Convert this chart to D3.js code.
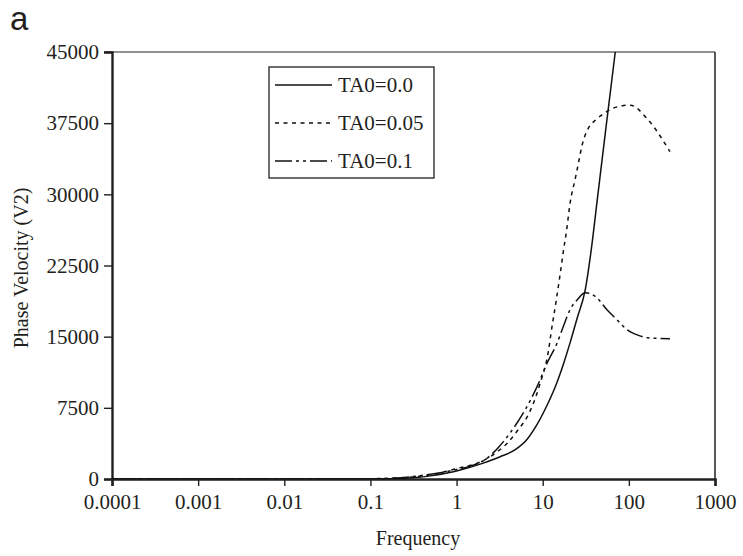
<!DOCTYPE html>
<html>
<head>
<meta charset="utf-8">
<script src="https://cdn.jsdelivr.net/npm/d3@7"></script>
<style>
  html, body { margin: 0; padding: 0; background: #fff; }
  svg { display: block; }
  text { font-family: "Liberation Serif", "Times New Roman", serif; fill: #231f20; }
</style>
</head>
<body>
<svg id="chart" width="743" height="556"></svg>
<script>
// Phase velocity (V2) versus frequency for three TA0 values
const seriesNames = ["TA0=0.0", "TA0=0.05", "TA0=0.1"];

const freqA = [0.0001, 0.001, 0.01, 0.1, 0.2, 0.3, 0.5, 0.8, 1, 2, 3.2, 4.8, 6.6, 8.6, 11.3, 14, 17.3, 20.8, 25.2, 31.2, 36.6, 43, 54.6, 73.3];
const valA  = [0, 0, 0, 20, 60, 120, 330, 650, 850, 1650, 2340, 3100, 4200, 5750, 7830, 9730, 12050, 14370, 17000, 19950, 24170, 29440, 37240, 46700];

const freqB = [0.0001, 0.001, 0.01, 0.1, 0.2, 0.5, 1, 2, 3, 4, 5, 7, 9.35, 11.7, 12.5, 14.4, 16, 17.5, 18.8, 20.8, 23.8, 26, 28.5, 34, 40.7, 50.8, 66.4, 104, 162, 300];
const valB  = [0, 0, 0, 30, 100, 450, 1100, 1900, 2900, 3900, 5000, 7000, 10100, 13600, 15400, 18900, 21700, 24200, 26000, 29100, 31600, 33300, 35100, 37000, 37800, 38500, 39100, 39400, 38000, 34500];

const freqC = [0.0001, 0.001, 0.01, 0.1, 0.2, 0.3, 0.5, 1, 1.43, 2.27, 3.04, 4.2, 6.26, 8.6, 11.3, 14.7, 17.3, 20.8, 25.2, 31.2, 40.7, 55.7, 72.7, 95, 123, 164, 300];
const valC  = [0, 0, 0, 30, 100, 250, 500, 1000, 1350, 2200, 3300, 4880, 7300, 9730, 12260, 14330, 16050, 17860, 18900, 19630, 19250, 17840, 16790, 15740, 15210, 14890, 14790];

const xTicks = [0.0001, 0.001, 0.01, 0.1, 1, 10, 100, 1000];
const xTickLabels = ["0.0001", "0.001", "0.01", "0.1", "1", "10", "100", "1000"];
const yTicks = [0, 7500, 15000, 22500, 30000, 37500, 45000];

const dashes = [null, "4,4.5", "17,4,3,4,3,4"];

const svg = d3.select("#chart");
const plotLeft = 112, plotRight = 715, plotTop = 52, plotBottom = 479;

const x = d3.scaleLog().domain([0.0001, 1000]).range([plotLeft, plotRight]);
const y = d3.scaleLinear().domain([0, 45000]).range([plotBottom, plotTop]);

// panel letter
svg.append("text").attr("x", 10).attr("y", 30)
  .style("font-family", "'Liberation Sans', Arial, sans-serif")
  .style("font-size", "33px").text("a");

// clip region for the curves
svg.append("defs").append("clipPath").attr("id", "plotClip")
  .append("rect").attr("x", plotLeft).attr("y", plotTop)
  .attr("width", plotRight - plotLeft).attr("height", plotBottom - plotTop);

// frame: thin top and right edges
svg.append("line").attr("x1", plotLeft - 8).attr("x2", plotRight).attr("y1", plotTop).attr("y2", plotTop)
  .attr("stroke", "#231f20").attr("stroke-width", 1.2);
svg.append("line").attr("x1", plotRight).attr("x2", plotRight).attr("y1", plotTop).attr("y2", plotBottom)
  .attr("stroke", "#231f20").attr("stroke-width", 1.5);

// axes
const yAxis = d3.axisLeft(y).tickValues(yTicks).tickSize(8).tickPadding(5).tickFormat(d3.format("d"));
const gy = svg.append("g").attr("transform", `translate(${plotLeft},0)`).call(yAxis);
gy.select(".domain").attr("stroke", "#231f20").attr("stroke-width", 2.4);
gy.selectAll(".tick line").attr("stroke", "#231f20").attr("stroke-width", 1.4);
gy.selectAll(".tick text").style("font-family", "'Liberation Serif', 'Times New Roman', serif")
  .style("font-size", "21px").attr("fill", "#231f20");

const xAxis = d3.axisBottom(x).tickValues(xTicks).tickSize(7).tickPadding(8)
  .tickFormat((d, i) => xTickLabels[i]);
const gx = svg.append("g").attr("transform", `translate(0,${plotBottom})`).call(xAxis);
gx.select(".domain").attr("stroke", "#231f20").attr("stroke-width", 2.6);
gx.selectAll(".tick line").attr("stroke", "#231f20").attr("stroke-width", 1.4);
gx.selectAll(".tick text").style("font-family", "'Liberation Serif', 'Times New Roman', serif")
  .style("font-size", "21px").attr("fill", "#231f20");

// axis titles
svg.append("text").attr("x", 418).attr("y", 545).attr("text-anchor", "middle")
  .style("font-size", "20px").text("Frequency");
svg.append("text").attr("transform", "translate(28,268) rotate(-90)").attr("text-anchor", "middle")
  .style("font-size", "20px").text("Phase Velocity (V2)");

// curves
const series = [
  freqA.map((f, i) => [f, valA[i]]),
  freqB.map((f, i) => [f, valB[i]]),
  freqC.map((f, i) => [f, valC[i]])
];
const line = d3.line().x(d => x(d[0])).y(d => y(d[1])).curve(d3.curveMonotoneX);
const gLines = svg.append("g").attr("clip-path", "url(#plotClip)");
series.forEach((s, i) => {
  gLines.append("path").datum(s).attr("d", line)
    .attr("fill", "none").attr("stroke", "#111").attr("stroke-width", 1.5)
    .attr("stroke-dasharray", dashes[i]);
});

// legend
const lg = svg.append("g");
lg.append("rect").attr("x", 269).attr("y", 67).attr("width", 165).attr("height", 111)
  .attr("fill", "#fff").attr("stroke", "#231f20").attr("stroke-width", 1.3);
const rowY = [85, 123, 161];
seriesNames.forEach((name, i) => {
  lg.append("line").attr("x1", 275).attr("x2", 332).attr("y1", rowY[i]).attr("y2", rowY[i])
    .attr("stroke", "#111").attr("stroke-width", 1.5).attr("stroke-dasharray", dashes[i]);
  lg.append("text").attr("x", 338).attr("y", rowY[i]).attr("dy", "0.35em")
    .style("font-size", "21px").text(name);
});
</script>
</body>
</html>
